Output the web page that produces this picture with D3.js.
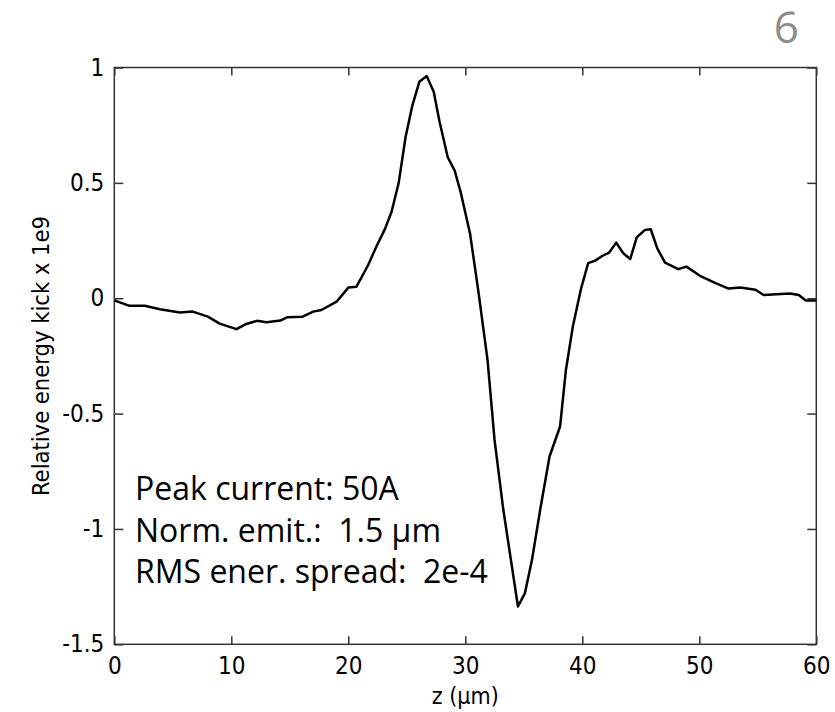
<!DOCTYPE html>
<html>
<head>
<meta charset="utf-8">
<script src="https://cdn.jsdelivr.net/npm/d3@7"></script>
<style>
  body { margin: 0; background: #fff; }
  .tick text { font-family: 'DejaVu Sans Condensed', 'DejaVu Sans', sans-serif; font-size: 24px; fill: #000; }
  .note { font-family: 'Open Sans', sans-serif; font-size: 32px; fill: #000; white-space: pre; }
</style>
</head>
<body>
<svg width="835" height="712"></svg>
<script>
// z position (um) and relative energy kick (x 1e9)
const zValues = [0, 0.3, 1.3, 2.6, 3.9, 5.6, 6.7, 8.0, 9.0, 10.45, 11.2, 12.2, 13.0, 14.2, 14.8, 16.1, 17.0, 17.7, 19.0, 20.0,
  20.7, 21.7, 22.4, 23.1, 23.7, 24.3, 24.9, 25.45, 26.07, 26.7, 27.3, 27.8, 28.5, 29.1, 29.6, 30.4, 31.1, 31.9, 32.5, 33.25,
  34.5, 35.1, 35.7, 36.4, 37.2, 38.1, 38.6, 39.2, 39.9, 40.5, 41.1, 41.7, 42.3, 42.9, 43.5, 44.1, 44.65, 45.36, 45.85, 46.4,
  47.07, 48.2, 48.9, 50.06, 51.3, 52.5, 53.5, 54.8, 55.5, 56.6, 57.75, 58.5, 59.1, 60];
const kickValues = [-0.01, -0.015, -0.033, -0.033, -0.048, -0.062, -0.058, -0.08, -0.11, -0.134, -0.113, -0.098, -0.104, -0.097, -0.082, -0.08, -0.058, -0.051, -0.015, 0.046,
  0.05, 0.144, 0.224, 0.296, 0.375, 0.498, 0.70, 0.83, 0.938, 0.963, 0.895, 0.765, 0.611, 0.552, 0.46, 0.282, 0.036, -0.267, -0.614, -0.917,
  -1.336, -1.278, -1.134, -0.917, -0.686, -0.556, -0.311, -0.12, 0.043, 0.152, 0.163, 0.183, 0.198, 0.241, 0.195, 0.170, 0.264, 0.296, 0.299, 0.217,
  0.154, 0.126, 0.137, 0.097, 0.068, 0.042, 0.046, 0.037, 0.014, 0.017, 0.02, 0.014, -0.01, -0.01];
const xTicks = [0, 10, 20, 30, 40, 50, 60];
const yTicks = [1, 0.5, 0, -0.5, -1, -1.5];
const notes = ['Peak current: 50A', 'Norm. emit.:  1.5 µm', 'RMS ener. spread:  2e-4'];

const margin = { top: 67.5, right: 18.7, bottom: 67.7, left: 114.3 };
const width = 835 - margin.left - margin.right;
const height = 712 - margin.top - margin.bottom;

const svg = d3.select('svg');
const g = svg.append('g').attr('transform', `translate(${margin.left},${margin.top})`);

const x = d3.scaleLinear().domain([0, 60]).range([0, width]);
const y = d3.scaleLinear().domain([-1.5, 1]).range([height, 0]);

const fmt = d => String(d);

//ticks point inward, frame drawn separately
const styleAxis = sel => {
    sel.select('.domain').remove();
    sel.selectAll('.tick line').attr('stroke', '#333').attr('stroke-width', 1.5);
};

g.append('g').attr('transform', `translate(0,${height})`)
    .call(d3.axisBottom(x).tickValues(xTicks).tickFormat(fmt).tickSize(-8).tickPadding(13))
    .call(styleAxis);
g.append('g')
    .call(d3.axisLeft(y).tickValues(yTicks).tickFormat(fmt).tickSize(-9).tickPadding(10))
    .call(styleAxis);

//mirrored ticks on top and right, no labels
g.append('g')
    .call(d3.axisTop(x).tickValues(xTicks).tickFormat('').tickSize(-8))
    .call(styleAxis);
g.append('g').attr('transform', `translate(${width},0)`)
    .call(d3.axisRight(y).tickValues(yTicks).tickFormat('').tickSize(-9))
    .call(styleAxis);

g.append('rect')
    .attr('width', width).attr('height', height)
    .attr('fill', 'none').attr('stroke', '#333').attr('stroke-width', 1.5);

const points = zValues.map((z, i) => [z, kickValues[i]]);
const line = d3.line().x(d => x(d[0])).y(d => y(d[1]));

g.append('path')
    .datum(points)
    .attr('d', line)
    .attr('fill', 'none')
    .attr('stroke', '#000')
    .attr('stroke-width', 2.5)
    .attr('stroke-linejoin', 'round');

//axis titles
svg.append('text')
    .attr('x', margin.left + width / 2).attr('y', 704)
    .attr('text-anchor', 'middle')
    .style('font-family', "'DejaVu Sans Condensed', 'DejaVu Sans', sans-serif")
    .style('font-size', '23px')
    .text('z (µm)');

svg.append('text')
    .attr('transform', 'translate(49,356) rotate(-90)')
    .attr('text-anchor', 'middle')
    .style('font-family', "'DejaVu Sans Condensed', 'DejaVu Sans', sans-serif")
    .style('font-size', '23.5px')
    .text('Relative energy kick x 1e9');

//parameter notes
svg.selectAll('.note').data(notes)
    .enter().append('text')
    .attr('class', 'note')
    .attr('x', 135)
    .attr('y', (_d, i) => 500 + i * 41.7)
    .text(d => d);

//page number
svg.append('text')
    .attr('x', 799).attr('y', 43)
    .attr('text-anchor', 'end')
    .style('font-family', "'Open Sans', sans-serif")
    .style('font-size', '44px')
    .attr('fill', '#8c8c8c')
    .text('6');
</script>
</body>
</html>
